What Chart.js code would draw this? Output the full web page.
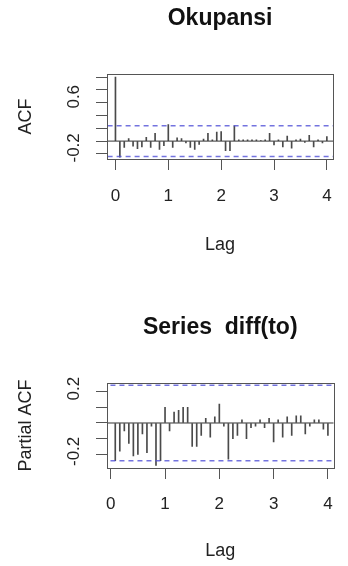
<!DOCTYPE html>
<html><head><meta charset="utf-8">
<script src="https://cdn.jsdelivr.net/npm/chart.js@4/dist/chart.umd.min.js"></script>
<style>
html,body{margin:0;padding:0;overflow:hidden;background:#fff;width:348px;height:566px;}
canvas{position:absolute;left:0;display:block;}
#acfChart{top:0;}
#pacfChart{top:283px;}
</style></head><body>
<canvas id="acfChart" width="348" height="283"></canvas>
<canvas id="pacfChart" width="348" height="283"></canvas>
<script>
// ---- data ----
const lagFrequency = 12;                 // lags shown in years, 12 lags per unit
const ciBound = 0.24;                    // blue dashed significance bounds (+/-)

const acfTitle = "Okupansi";
const acfValues = [1.00, -0.25, -0.10, 0.04, -0.08, -0.12, -0.09, 0.06, -0.10, 0.12, -0.13, -0.07,
                   0.26, -0.10, 0.05, 0.04, -0.03, -0.10, -0.13, -0.05, 0.03, 0.12, 0.02, 0.14,
                   0.15, -0.15, -0.15, 0.24, 0.02, 0.02, 0.02, 0.02, 0.02, 0.01, 0.02, 0.12,
                   -0.06, 0.02, -0.09, 0.08, -0.11, 0.02, 0.03, -0.02, 0.09, -0.09, 0.02, -0.03,
                   0.07];                 // lags 0 .. 48
const acfYTicks = [-0.2, 0, 0.2, 0.4, 0.6, 0.8, 1.0];
const acfYLabels = ["-0.2", "", "", "", "0.6", "", ""];

const pacfTitle = "Series  diff(to)";
const pacfValues = [-0.24, -0.18, -0.05, -0.13, -0.21, -0.20, -0.07, -0.19, -0.02, -0.27, -0.24, 0.10,
                    -0.05, 0.07, 0.08, 0.10, 0.10, -0.15, -0.15, -0.08, 0.03, -0.09, 0.04, 0.12,
                    -0.02, -0.23, -0.10, -0.08, 0.02, -0.10, -0.03, -0.02, 0.02, -0.03, 0.03, -0.12,
                    0.02, -0.09, 0.04, -0.08, 0.045, 0.045, -0.07, -0.02, 0.02, 0.02, -0.04, -0.08]; // lags 1 .. 48
const pacfYTicks = [-0.2, -0.1, 0, 0.1, 0.2];
const pacfYLabels = ["-0.2", "", "", "", "0.2"];

const xTickValues = [0, 1, 2, 3, 4];
const xTickLabels = ["0", "1", "2", "3", "4"];
const xAxisTitle = "Lag";

// ---- drawing ----
const FONT = "'Liberation Sans', Arial, Helvetica, sans-serif";
Chart.defaults.font.family = FONT;
const AXIS = '#555';
const CI_COLOR = 'rgba(80,80,215,0.8)';

const boxPlugin = {
  id: 'rbox',
  afterDraw(chart) {
    const a = chart.chartArea, ctx = chart.ctx;
    ctx.save();
    ctx.strokeStyle = AXIS; ctx.lineWidth = 1;
    ctx.strokeRect(Math.round(a.left) + 0.5, Math.round(a.top) + 0.5, Math.round(a.right - a.left), Math.round(a.bottom - a.top));
    ctx.restore();
  }
};

function hline(y, color, width, dash) {
  return { type: 'line', data: [{x: -1, y}, {x: 6, y}], borderColor: color, borderWidth: width,
           borderDash: dash, pointRadius: 0, fill: false, order: 0 };
}

function rChart(id, o) {
  const bars = o.values.map((v, i) => ({ x: (i + o.firstLag) / lagFrequency, y: v }));
  return new Chart(document.getElementById(id), {
    type: 'bar',
    data: { datasets: [
      { type: 'bar', data: bars, backgroundColor: '#4a4a4a', borderWidth: 0, barThickness: 1, order: 2 },
      hline(0, '#333', 1, []),
      hline(ciBound, CI_COLOR, 1.5, [5, 4]),
      hline(-ciBound, CI_COLOR, 1.5, [5, 4])
    ]},
    options: {
      responsive: false, animation: false, events: [],
      layout: { padding: 0 },
      plugins: {
        legend: { display: false }, tooltip: { enabled: false },
        title: { display: true, text: o.title, fullSize: false, color: '#111',
                 font: { size: 23, weight: 'bold', lineHeight: 1 },
                 padding: { top: o.titleTop, bottom: o.titleBottom } }
      },
      scales: {
        x: {
          type: 'linear', min: o.xMin, max: o.xMax, offset: false,
          afterBuildTicks: s => { s.ticks = xTickValues.map(v => ({ value: v })); },
          afterFit: s => { s.height = o.xAxisHeight; },
          ticks: { font: { size: 17 }, color: '#222', padding: o.xTickPad, maxRotation: 0, autoSkip: false,
                   callback: (v, i) => xTickLabels[i] },
          grid: { drawOnChartArea: false, drawTicks: true, tickLength: 11, color: AXIS, offset: false },
          border: { display: true, color: AXIS },
          title: { display: true, text: xAxisTitle, color: '#222', font: { size: 18 },
                   padding: { top: 0, bottom: o.lagPad } }
        },
        y: {
          min: o.yMin, max: o.yMax,
          afterBuildTicks: s => { s.ticks = o.yTicks.map(v => ({ value: v })); },
          afterFit: s => { s.width = 107; },
          ticks: { font: { size: 17 }, color: '#222', minRotation: 90, maxRotation: 90, crossAlign: 'center',
                   padding: 7, autoSkip: false, labelOffset: o.yLabelShift, callback: (v, i) => o.yLabels[i] },
          grid: { drawOnChartArea: false, drawTicks: true, tickLength: 11, color: AXIS },
          border: { display: true, color: AXIS },
          title: { display: true, text: o.yTitle, color: '#222', font: { size: 18 },
                   padding: { top: 15, bottom: 0 } }
        }
      }
    },
    plugins: [boxPlugin]
  });
}

rChart('acfChart', {
  title: acfTitle, values: acfValues, firstLag: 0, yTitle: 'ACF',
  yTicks: acfYTicks, yLabels: acfYLabels, yMin: -0.28, yMax: 1.05, yLabelShift: -6,
  xMin: -0.16, xMax: 4.12,
  titleTop: 7, titleBottom: 44, xAxisHeight: 124, xTickPad: 16, lagPad: 27
});
rChart('pacfChart', {
  title: pacfTitle, values: pacfValues, firstLag: 1, yTitle: 'Partial ACF',
  yTicks: pacfYTicks, yLabels: pacfYLabels, yMin: -0.287, yMax: 0.255, yLabelShift: -3,
  xMin: -0.069, xMax: 4.103,
  titleTop: 33, titleBottom: 44, xAxisHeight: 98, xTickPad: 15, lagPad: 4
});
</script>
</body></html>
